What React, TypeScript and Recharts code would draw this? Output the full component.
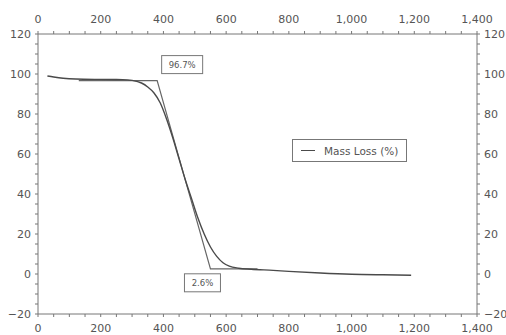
import { Legend, Line, LineChart, ReferenceDot, XAxis, YAxis } from "recharts";

// TGA curve (temperature in °C, mass in %)
const temperature = [
  30, 50, 80, 120, 200, 270, 300, 330, 350, 370, 390, 410, 430, 450, 470, 490,
  510, 530, 550, 570, 590, 610, 640, 680, 750, 800, 900, 1000, 1100, 1190,
];
const massLoss = [
  99.0, 98.5, 97.9, 97.5, 97.3, 97.2, 96.8, 95.5, 93.5, 90.5, 85.5, 77.5, 68,
  57.5, 47, 37.5, 28, 20, 13.5, 8.8, 5.6, 3.9, 2.9, 2.4, 1.8, 1.3, 0.5, -0.1,
  -0.4, -0.6,
];

// onset / endset tangent construction
const tangentTemp = [130, 380, 550, 700];
const tangentMass = [96.7, 96.7, 2.6, 2.6];

const onsetLabel = { x: 380, y: 96.7, text: "96.7%" };
const endsetLabel = { x: 550, y: 2.6, text: "2.6%" };

const xTicks = [0, 200, 400, 600, 800, 1000, 1200, 1400];
const yTicks = [-20, 0, 20, 40, 60, 80, 100, 120];

const curveData = temperature.map((t, i) => ({ t, mass: massLoss[i] }));
const tangentData = tangentTemp.map((t, i) => ({ t, mass: tangentMass[i] }));

const minorX: number[] = [];
for (let v = 0; v <= 1400; v += 50) minorX.push(v);
const minorY: number[] = [];
for (let v = -20; v <= 120; v += 5) minorY.push(v);

const FONT = "DejaVu Sans";
const AXIS = "#777";
const TEXT = "#555";
const LINE = "#4a4a4a";

const fmt = (v: number) => v.toLocaleString("en-US").replace("-", "\u2212");

// tick label only, the tick marks come from tickLine
function XTick(props: any) {
  const { x, y, payload, side } = props;
  if (!xTicks.includes(payload.value)) return <g />;
  return (
    <text
      x={x}
      y={side === "top" ? y - 12 : y + 11}
      textAnchor="middle"
      dominantBaseline="central"
      fontFamily={FONT}
      fontSize={11}
      fill={TEXT}
    >
      {fmt(payload.value)}
    </text>
  );
}

function YTick(props: any) {
  const { x, y, payload, side } = props;
  if (!yTicks.includes(payload.value)) return <g />;
  return (
    <text
      x={side === "left" ? x - 4 : x + 4}
      y={y}
      textAnchor={side === "left" ? "end" : "start"}
      dominantBaseline="central"
      fontFamily={FONT}
      fontSize={11}
      fill={TEXT}
    >
      {fmt(payload.value)}
    </text>
  );
}

function BoxLabel({ viewBox, text, dx, dy, w }: any) {
  const cx = viewBox.cx ?? viewBox.x;
  const cy = viewBox.cy ?? viewBox.y;
  const bx = cx + dx;
  const by = cy + dy;
  return (
    <g>
      <rect
        x={bx - w / 2}
        y={by - 9}
        width={w}
        height={18}
        fill="#fff"
        stroke={AXIS}
      />
      <text
        x={bx}
        y={by}
        textAnchor="middle"
        dominantBaseline="central"
        fontFamily={FONT}
        fontSize={8.5}
        fill={TEXT}
      >
        {text}
      </text>
    </g>
  );
}

function LegendBox() {
  return (
    <div
      style={{
        width: 113,
        height: 21,
        border: `1px solid ${AXIS}`,
        background: "#fff",
        display: "flex",
        alignItems: "center",
        fontFamily: FONT,
        fontSize: 10.5,
        color: TEXT,
      }}
    >
      <span
        style={{
          display: "inline-block",
          width: 14,
          height: 0,
          borderTop: `1px solid ${LINE}`,
          marginLeft: 8,
          marginRight: 9,
        }}
      />
      Mass Loss (%)
    </div>
  );
}

export default function App() {
  return (
    <div style={{ position: "absolute", left: 0, top: 0, background: "#fff" }}>
      <LineChart
        width={506}
        height={335}
        margin={{ top: 4, right: 1, bottom: 1, left: 1 }}
      >
        <XAxis
          xAxisId="bottom"
          type="number"
          dataKey="t"
          domain={[0, 1400]}
          ticks={minorX}
          interval={0}
          height={20}
          stroke={AXIS}
          tickLine={{ stroke: AXIS }}
          tickSize={3}
          tickMargin={0}
          tick={<XTick side="bottom" />}
        />
        <XAxis
          xAxisId="top"
          orientation="top"
          type="number"
          dataKey="t"
          domain={[0, 1400]}
          ticks={minorX}
          interval={0}
          height={30}
          stroke={AXIS}
          tickLine={{ stroke: AXIS }}
          tickSize={3}
          tickMargin={0}
          tick={<XTick side="top" />}
        />
        <YAxis
          yAxisId="left"
          type="number"
          domain={[-20, 120]}
          ticks={minorY}
          interval={0}
          width={37}
          stroke={AXIS}
          tickLine={{ stroke: AXIS }}
          tickSize={3}
          tickMargin={0}
          tick={<YTick side="left" />}
        />
        <YAxis
          yAxisId="right"
          orientation="right"
          type="number"
          domain={[-20, 120]}
          ticks={minorY}
          interval={0}
          width={28}
          stroke={AXIS}
          tickLine={{ stroke: AXIS }}
          tickSize={3}
          tickMargin={0}
          tick={<YTick side="right" />}
        />
        <Line
          xAxisId="top"
          yAxisId="right"
          data={tangentData}
          dataKey="mass"
          type="linear"
          stroke="#666"
          strokeWidth={1.2}
          dot={false}
          isAnimationActive={false}
          legendType="none"
        />
        <Line
          xAxisId="bottom"
          yAxisId="left"
          data={curveData}
          dataKey="mass"
          name="Mass Loss (%)"
          type="monotone"
          stroke={LINE}
          strokeWidth={1.4}
          dot={false}
          isAnimationActive={false}
        />
        <ReferenceDot
          xAxisId="bottom"
          yAxisId="left"
          x={onsetLabel.x}
          y={onsetLabel.y}
          r={0}
          stroke="none"
          label={(p: any) => (
            <BoxLabel {...p} text={onsetLabel.text} dx={25} dy={-16} w={41} />
          )}
        />
        <ReferenceDot
          xAxisId="bottom"
          yAxisId="left"
          x={endsetLabel.x}
          y={endsetLabel.y}
          r={0}
          stroke="none"
          label={(p: any) => (
            <BoxLabel {...p} text={endsetLabel.text} dx={-8} dy={14} w={36} />
          )}
        />
        <Legend
          layout="vertical"
          align="center"
          verticalAlign="middle"
          wrapperStyle={{ left: 292, top: 139, width: "auto" }}
          content={() => <LegendBox />}
        />
      </LineChart>
    </div>
  );
}
